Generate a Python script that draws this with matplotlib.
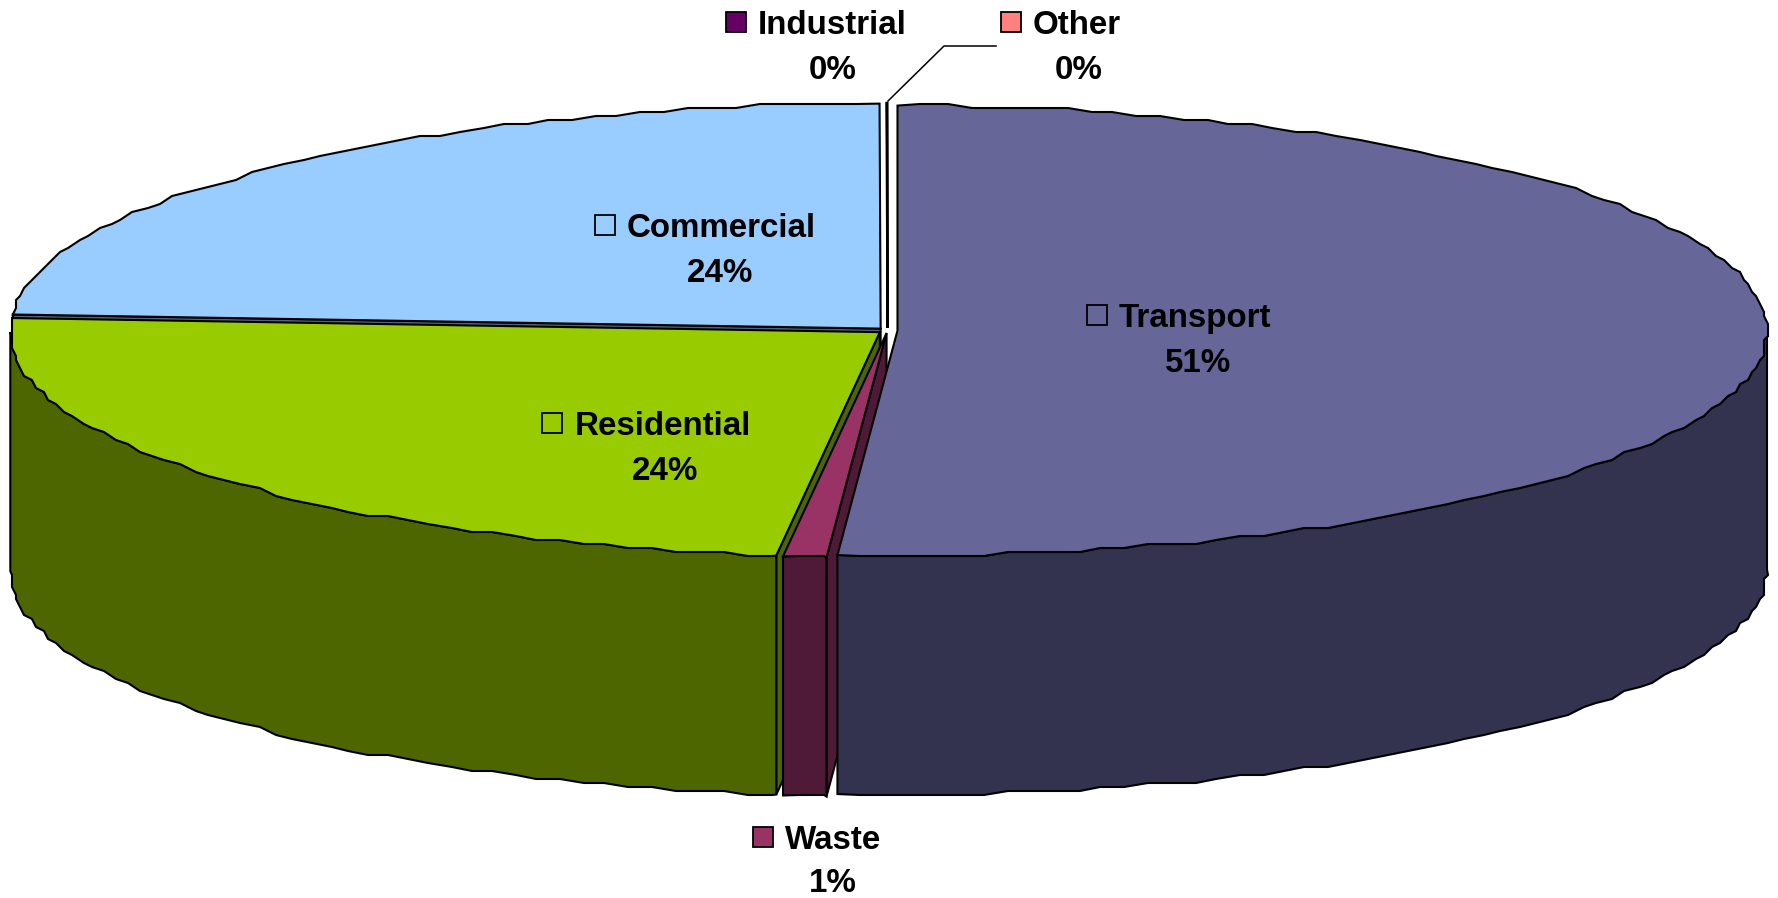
from math import sin, cos, ceil, floor, radians
import matplotlib
matplotlib.use('Agg')
from matplotlib import pyplot as plt
from matplotlib.patches import Polygon

plt.rcParams['font.family'] = ['Liberation Sans', 'DejaVu Sans']

names = ['Transport', 'Waste', 'Residential', 'Commercial', 'Industrial', 'Other']
shares = [51.1, 0.8, 24.1, 23.98, 0.01, 0.01]
pct_labels = ['51%', '1%', '24%', '24%', '0%', '0%']
top_colors = ['#666699', '#993366', '#99CC00', '#99CCFF', '#660066', '#FF8080']
wall_colors = ['#333350', '#4F1A38', '#4D6600', '#4D6680', '#330033', '#804040']

# label places in pixels: key x, key y, text x, pct x, pct y
label_pos = {
    'Transport': (1097, 315, 1119, 1198, 360),
    'Waste': (763, 837, 785, 833, 880),
    'Residential': (552, 423, 575, 665, 468),
    'Commercial': (605, 225, 627, 720, 270),
    'Industrial': (736, 22, 758, 833, 67),
    'Other': (1011, 22, 1033, 1079, 67),
}

cx, cy = 887.5, 330.5
a, b = 869.5, 225
depth = 239
explode = 10.
grid = 4.
step = 1.6
lw = 1.5

fig = plt.figure(figsize=(17.78, 8.98), dpi=100)
ax = fig.add_axes([0, 0, 1, 1])
ax.set_xlim(0, 1778)
ax.set_ylim(898, 0)
ax.axis('off')


def snap(p):
    # the original outline is a coarse polygon, so keep it a bit rough
    return (round(p[0]/grid)*grid, round(p[1]/grid)*grid)


def point(ox, oy, t):
    return (ox + a*sin(radians(t)), oy - b*cos(radians(t)))


def arc(ox, oy, t0, t1):
    # fixed angle steps, so the top and the wall of a slice share their points
    pts = [point(ox, oy, t0)]
    for kk in range(floor(t0/step)+1, ceil(t1/step)):
        pts.append(snap(point(ox, oy, kk*step)))
    pts.append(point(ox, oy, t1))
    return pts


# angles and exploded apex of every slice
total = sum(shares)
slices = {}
start = 0.
for name, share in zip(names, shares):
    end = start + 360.*share/total
    mid = radians((start+end)/2)
    slices[name] = (start, end, cx + explode*sin(mid), cy - explode*b/a*cos(mid))
    start = end


def draw_face(name):
    t0, t1, ox, oy = slices[name]
    col = wall_colors[names.index(name)]
    p = point(ox, oy, t0)
    pts = [(ox, oy), p, (p[0], p[1]+depth), (ox, oy+depth)]
    ax.add_patch(Polygon(pts, closed=True, fc=col, ec='black', lw=lw))


def draw_wall(name):
    t0, t1, ox, oy = slices[name]
    col = wall_colors[names.index(name)]
    lo, hi = max(t0, 90.), min(t1, 270.)
    if hi <= lo:
        return
    edge = arc(ox, oy, lo, hi)
    pts = edge + [(x, y+depth) for x, y in edge[::-1]]
    ax.add_patch(Polygon(pts, closed=True, fc=col, ec='black', lw=lw))


def draw_top(name):
    t0, t1, ox, oy = slices[name]
    col = top_colors[names.index(name)]
    pts = [(ox, oy)] + arc(ox, oy, t0, t1)
    ax.add_patch(Polygon(pts, closed=True, fc=col, ec='black', lw=lw))


# back to front
for name in ['Other', 'Industrial']:
    draw_top(name)
draw_face('Commercial')
draw_top('Commercial')
draw_face('Residential')
draw_wall('Residential')
draw_top('Residential')
draw_face('Waste')
draw_wall('Transport')
draw_top('Transport')
draw_wall('Waste')
draw_top('Waste')

# leader line for Other
ax.plot([888, 944, 996], [101, 46, 46], color='black', lw=1.1)

for ii, name in enumerate(names):
    kx, ky, tx, px, py = label_pos[name]
    ax.plot([kx], [ky], marker='s', ms=15, mfc=top_colors[ii], mec='black', mew=1.3)
    ax.text(tx, ky, name, fontsize=23.9, fontweight='bold', ha='left', va='center_baseline')
    ax.text(px, py, pct_labels[ii], fontsize=23.9, fontweight='bold', ha='center', va='center_baseline')

fig.savefig('out.png', dpi=100, facecolor='white')
